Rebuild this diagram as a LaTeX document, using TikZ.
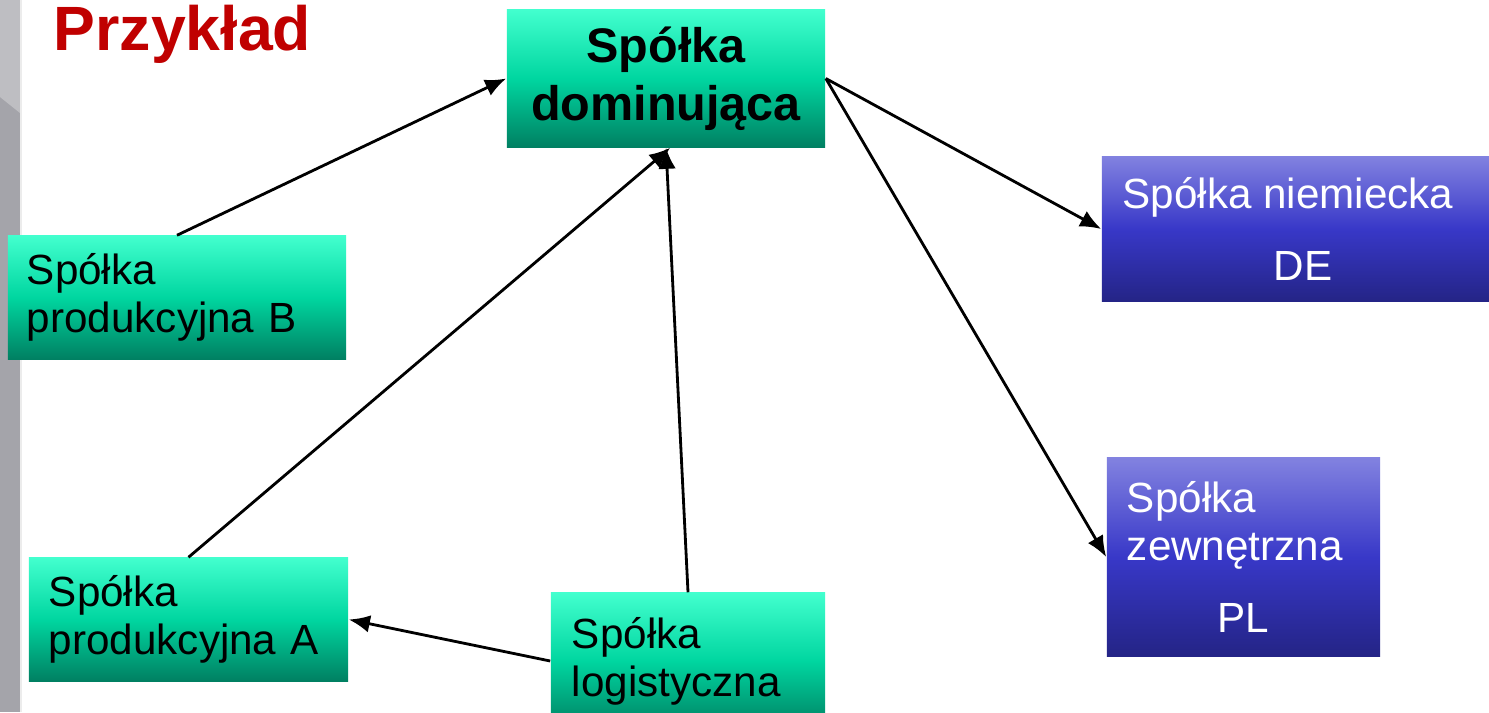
\documentclass[tikz,border=0pt]{standalone}
\usepackage{fontspec}
\setmainfont{Liberation Sans}
\usetikzlibrary{arrows.meta}
\definecolor{aqualight}{RGB}{66,255,206}
\definecolor{aquamid}{RGB}{0,214,160}
\definecolor{aquadark}{RGB}{0,128,98}
\definecolor{bluelight}{RGB}{130,130,224}
\definecolor{bluemid}{RGB}{56,56,200}
\definecolor{bluedark}{RGB}{36,36,134}
\definecolor{titlered}{RGB}{192,0,0}
\definecolor{barlight}{RGB}{190,190,194}
\definecolor{bardark}{RGB}{164,164,170}

\begin{document}
\begin{tikzpicture}[x=0.01cm,y=-0.01cm,
	greenbox/.style={top color=aqualight, bottom color=aquadark, middle color=aquamid, inner ysep=0pt},
	bluebox/.style={top color=bluelight, bottom color=bluedark, middle color=bluemid, text=white, inner ysep=0pt},
	txt/.style={font=\fontsize{12}{13.6}\selectfont},
	link/.style={line width=0.8pt, -{Latex[length=6pt,width=5pt]}}]
		\useasboundingbox (0,0) rectangle (1489,712);
		\fill[white] (0,0) rectangle (1489,712);
		\fill[bardark] (0,0) rectangle (20,712);
		\fill[barlight] (0,0) -- (20,0) -- (20,113) -- (0,97) -- cycle;
		\fill[gray!15] (20,0) rectangle (22,712);
		\node[anchor=base west, inner sep=0pt, text=titlered, font=\bfseries\fontsize{17.8}{20}\selectfont] (title) at (53,50) {Przykład};
		\node[greenbox, minimum width=3.18cm, minimum height=1.37cm, align=center,
			font=\bfseries\fontsize{13.8}{16.5}\selectfont] (dom) at (666,78.5) {Spółka\\dominująca};
		\node[greenbox, txt, inner xsep=0.19cm, text width=3.0cm, align=left, minimum height=1.23cm] (prodB) at (177,297.5) {Spółka\\produkcyjna B};
		\node[greenbox, txt, inner xsep=0.2cm, text width=2.79cm, align=left, minimum height=1.23cm] (prodA) at (188.5,619.5) {Spółka\\produkcyjna A};
		\node[greenbox, txt, inner xsep=0.21cm, text width=2.32cm, align=left, minimum height=1.36cm] (logis) at (688,661) {Spółka\\logistyczna};
		\node[bluebox, txt, minimum width=3.87cm, minimum height=1.45cm, align=center] (niem) at (1295.5,229) {Spółka niemiecka\hspace*{0.15cm}\\[6.7pt]\hspace*{0.15cm}DE};
		\node[bluebox, txt, minimum width=2.73cm, minimum height=1.98cm, align=left] (zewn) at (1243.5,557) {Spółka\\zewnętrzna\hspace*{0.18cm}\\[7pt]\makebox[2.33cm]{PL}};
		\draw[link] (prodB.north) -- (dom.west);
		\draw[link] (prodA.north) -- ([xshift=1.2pt]dom.south);
		\draw[link] (logis.north) -- (dom.south);
		\draw[link] (logis.west) -- (prodA.east);
		\draw[link] (dom.east) -- (niem.west);
		\draw[link] (dom.east) -- (zewn.west);
\end{tikzpicture}
\end{document}
